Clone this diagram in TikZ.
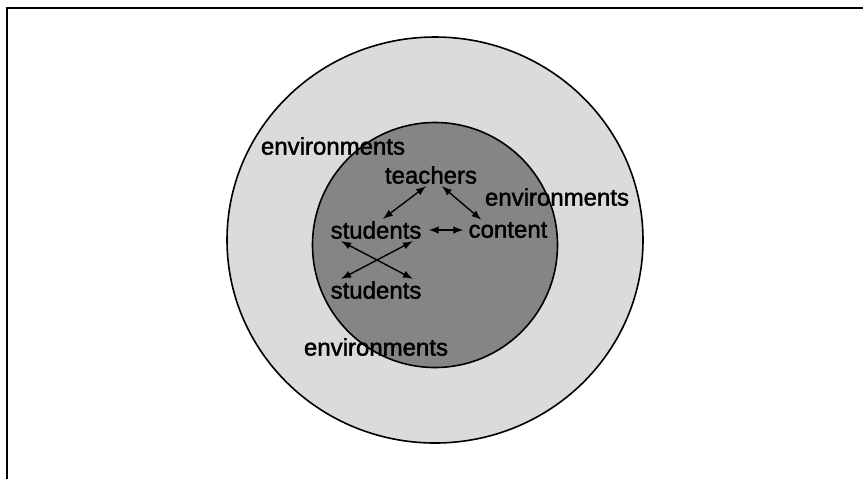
\documentclass[tikz,border=0pt]{standalone}
\usepackage{fontspec}
\setmainfont{Liberation Sans}
\newfontfamily\heavyfont{Liberation Sans}[FakeBold=1.6]
\begin{document}
\begin{tikzpicture}[>=latex, x=.5pt, y=-.5pt, font=\heavyfont\fontsize{12}{14}\selectfont,
    lbl/.style={inner sep=1pt},
    link/.style={<->, line width=.7pt}]
\useasboundingbox (0,0) rectangle (863,479);
% open frame, top and left side only
\draw[line width=1pt] (7,479)--(7,8)--(863,8);
% the two rings
\draw[line width=.8pt, fill=black!14] (435,240) ellipse (208 and 203);
\draw[line width=.8pt, fill=black!48] (435,245) circle (122.5);
\node[lbl] (envtop) at (333,146){environments};
\node[lbl] (envright) at (557,197){environments};
\node[lbl] (envbottom) at (376,347){environments};
\node[lbl] (teach) at (431,175){teachers};
\node[lbl] (stud) at (376,230){students};
\node[lbl] (cont) at (508,230){content};
\node[lbl] (studb) at (376,290){students};
\draw[link] ([shift={(-5,0)}]teach.south)--([shift={(7,0)}]stud.north);
\draw[link] ([shift={(11,0)}]teach.south)--([shift={(15,0)}]cont.north west);
\draw[link] ([shift={(5,0)}]stud.east)--([shift={(-3,0)}]cont.west);
\draw[link] ([shift={(13,0)}]stud.south west)--([shift={(-11,0)}]studb.north east);
\draw[link] ([shift={(-11,0)}]stud.south east)--([shift={(13,0)}]studb.north west);
\end{tikzpicture}
\end{document}
